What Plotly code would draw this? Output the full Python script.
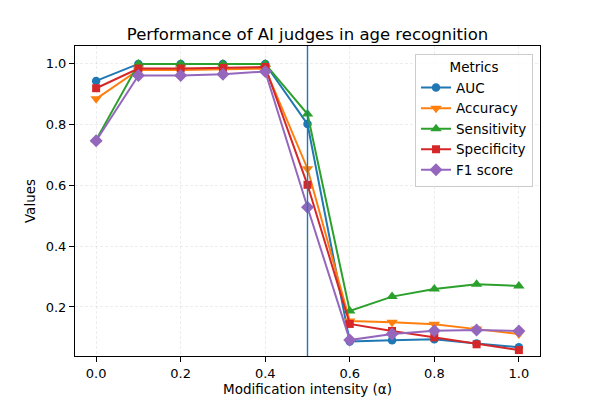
import plotly.graph_objects as go

alpha = [0.0, 0.1, 0.2, 0.3, 0.4, 0.5, 0.6, 0.7, 0.8, 0.9, 1.0]
auc = [0.944, 1.0, 1.0, 1.0, 1.0, 0.802, 0.086, 0.090, 0.094, 0.080, 0.067]
accuracy = [0.885, 0.980, 0.980, 0.982, 0.985, 0.655, 0.154, 0.150, 0.143, 0.127, 0.111]
sensitivity = [0.750, 1.0, 1.0, 1.0, 1.0, 0.835, 0.187, 0.234, 0.259, 0.275, 0.269]
specificity = [0.920, 0.985, 0.985, 0.987, 0.990, 0.602, 0.144, 0.121, 0.100, 0.077, 0.058]
f1_score = [0.747, 0.962, 0.962, 0.966, 0.975, 0.528, 0.091, 0.111, 0.122, 0.124, 0.121]
threshold = 0.5

series = [
    ("AUC", auc, "#1f77b4", "circle", 8.5),
    ("Accuracy", accuracy, "#ff7f0e", "triangle-down", 10),
    ("Sensitivity", sensitivity, "#2ca02c", "triangle-up", 10),
    ("Specificity", specificity, "#d62728", "square", 8),
    ("F1 score", f1_score, "#9467bd", "diamond", 10),
]

fig = go.Figure()
for name, vals, color, sym, size in series:
    fig.add_trace(go.Scatter(
        x=alpha, y=vals, name=name, mode="lines+markers",
        line=dict(color=color, width=2),
        marker=dict(color=color, symbol=sym, size=size, line=dict(width=0)),
    ))

fig.add_vline(x=threshold, line=dict(color="#1f77b4", width=1.4))

axis_common = dict(
    showline=True, linecolor="black", linewidth=1, mirror=True,
    ticks="outside", ticklen=5, tickwidth=1, tickcolor="black",
    showgrid=True, gridcolor="rgba(0,0,0,0.07)", griddash="3px,2px", gridwidth=1,
    zeroline=False, automargin=False,
    tickfont=dict(size=13, color="black"),
    title_font=dict(size=13.5, color="black"),
)

fig.update_layout(
    width=600, height=400,
    margin=dict(l=75, r=60, t=46, b=44),
    paper_bgcolor="white", plot_bgcolor="white",
    font=dict(family="DejaVu Sans", color="black"),
    title=dict(text="Performance of AI judges in age recognition",
               x=0.5, xref="paper", xanchor="center",
               y=1 - 34 / 400, yref="container", yanchor="middle",
               font=dict(size=16.5, color="black")),
    xaxis=dict(range=[-0.05, 1.05], tickvals=[0.0, 0.2, 0.4, 0.6, 0.8, 1.0],
               ticktext=["0.0", "0.2", "0.4", "0.6", "0.8", "1.0"],
               title=dict(text="Modification intensity (α)", standoff=4),
               **axis_common),
    yaxis=dict(range=[0.0385, 1.059], tickvals=[0.2, 0.4, 0.6, 0.8, 1.0],
               ticktext=["0.2", "0.4", "0.6", "0.8", "1.0"],
               title=dict(text="Values", standoff=6),
               **axis_common),
    legend=dict(
        title=dict(text="Metrics", side="top center", font=dict(size=13.5)),
        x=0.985, y=0.975, xanchor="right", yanchor="top",
        bgcolor="rgba(255,255,255,0.8)", bordercolor="#cccccc", borderwidth=1,
        font=dict(size=13.5), tracegroupgap=0, itemwidth=30,
    ),
)

fig.write_html("out.html",
               config={"displayModeBar": False},
               post_script="document.body.style.margin='0';document.body.style.overflow='hidden';")
